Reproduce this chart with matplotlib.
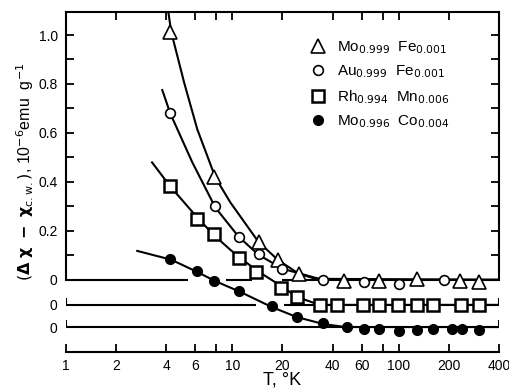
import numpy as np
import matplotlib
matplotlib.use('Agg')
import matplotlib.pyplot as plt
from matplotlib.ticker import FixedLocator, NullLocator
from matplotlib.lines import Line2D

plt.rcParams['font.family'] = ['Liberation Sans', 'DejaVu Sans']
plt.rcParams['mathtext.fontset'] = 'dejavusans'

# --- measured points (T in K, value in 1e-6 emu/g, relative to each series' own zero) ---
tri_T = [4.2, 7.8, 14.5, 18.7, 25.3, 47, 76, 128, 233, 303]
tri_v = [1.012, 0.418, 0.156, 0.082, 0.025, -0.003, -0.003, 0.004, -0.003, -0.008]

oc_T = [4.2, 7.9, 10.9, 14.5, 20, 35, 62, 100, 187]
oc_v = [0.68, 0.30, 0.176, 0.107, 0.045, 0.0, -0.008, -0.016, 0.0]

sq_T = [4.2, 6.15, 7.7, 11.0, 13.9, 19.7, 24.3, 33.4, 42.4, 60.7, 75.8, 98.6, 129, 160, 238, 303]
sq_v = [0.484, 0.352, 0.291, 0.193, 0.135, 0.070, 0.033, 0.0, 0.0, 0.0, 0.0, 0.0, 0.0, 0.0, 0.0, 0.0]

fc_T = [4.2, 6.15, 7.8, 11.0, 17.4, 24.6, 34.8, 48.7, 62, 76, 100, 129, 160, 208, 240, 302]
fc_v = [0.279, 0.230, 0.189, 0.148, 0.086, 0.041, 0.015, 0.001, -0.008, -0.008, -0.015, -0.012, -0.008, -0.008, -0.009, -0.012]

# hand-drawn guide curves
tri_cT = [4.12, 4.29, 5.14, 6.15, 7.9, 9.72, 14.3, 18.7, 25.0, 31.6, 400]
tri_cv = [1.094, 1.012, 0.803, 0.615, 0.418, 0.316, 0.156, 0.082, 0.025, 0.004, 0.0]

oc_cT = [3.79, 4.23, 5.74, 7.9, 10.9, 14.3, 20.0, 34.8, 400]
oc_cv = [0.775, 0.680, 0.48, 0.295, 0.176, 0.103, 0.045, 0.0, 0.0]

sq_cT = [3.29, 4.23, 6.15, 7.69, 9.72, 11.1, 14.1, 20.0, 24.3, 33.4, 400]
sq_cv = [0.582, 0.484, 0.357, 0.287, 0.225, 0.193, 0.139, 0.074, 0.033, 0.0, 0.0]

fc_cT = [2.68, 4.29, 6.15, 7.8, 11.2, 17.2, 24.3, 35.3, 47.9, 400]
fc_cv = [0.311, 0.275, 0.225, 0.189, 0.143, 0.082, 0.041, 0.012, 0.0, 0.0]

labels = [r'Mo$_{0.999}$  Fe$_{0.001}$', r'Au$_{0.999}$  Fe$_{0.001}$',
          r'Rh$_{0.994}$  Mn$_{0.006}$', r'Mo$_{0.996}$  Co$_{0.004}$']

xticks = [1, 2, 4, 6, 8, 10, 20, 40, 60, 80, 100, 200, 400]
xticklabels = ['1', '2', '4', '6', '', '10', '20', '40', '60', '', '100', '200', '400']

# vertical offsets of the stacked zero lines
off_sq = -0.1025
off_fc = -0.193

fig = plt.figure(figsize=(5.1, 3.9), dpi=100)
ax = fig.add_axes([66 / 510, 1 - 352 / 390, 433 / 510, 340 / 390])
ax.set_xscale('log')
ax.set_xlim(1, 400)
ax.set_ylim(-0.295, 1.094)

lw = 1.5
for s in ax.spines.values():
    s.set_linewidth(lw)
ax.spines['left'].set_bounds(0, 1.094)
ax.spines['right'].set_bounds(0, 1.094)

# zero lines (broken where curves cross them)
for a, b in [(1, 5.43), (9.2, 13.2), (20, 400)]:
    ax.plot([a, b], [0, 0], color='black', lw=lw, solid_capstyle='butt')
for a, b in [(1, 13.8), (20.3, 400)]:
    ax.plot([a, b], [off_sq, off_sq], color='black', lw=lw, solid_capstyle='butt')
ax.plot([1, 400], [off_fc, off_fc], color='black', lw=lw, solid_capstyle='butt')
for base in [off_sq, off_fc]:
    ax.vlines([1, 400], base, base + 0.03, color='black', lw=lw)

# guide curves
ax.plot(tri_cT, tri_cv, color='black', lw=lw, zorder=3)
ax.plot(oc_cT, oc_cv, color='black', lw=lw, zorder=3)
ax.plot(sq_cT, np.array(sq_cv) + off_sq, color='black', lw=lw, zorder=3)
ax.plot(fc_cT, np.array(fc_cv) + off_fc, color='black', lw=lw, zorder=3)

# data points
ax.plot(tri_T, tri_v, ls='none', marker='^', ms=10, mfc='white', mec='black', mew=1.2, zorder=5)
ax.plot(oc_T, oc_v, ls='none', marker='o', ms=7, mfc='white', mec='black', mew=1.2, zorder=5)
ax.plot(sq_T, np.array(sq_v) + off_sq, ls='none', marker='s', ms=9, mfc='white', mec='black', mew=1.8, zorder=5)
ax.plot(fc_T, np.array(fc_v) + off_fc, ls='none', marker='o', ms=7, mfc='black', mec='black', zorder=5)

# ticks
ax.xaxis.set_major_locator(FixedLocator(xticks))
ax.xaxis.set_minor_locator(NullLocator())
ax.set_xticklabels(xticklabels)
ax.tick_params(axis='x', which='both', direction='in', top=True, bottom=True,
               length=6, width=1.3, labelsize=10, pad=5)

ax.set_yticks([off_fc, off_sq, 0, 0.2, 0.4, 0.6, 0.8, 1.0])
ax.set_yticklabels(['0', '0', '0', '0.2', '0.4', '0.6', '0.8', '1.0'])
ax.yaxis.set_minor_locator(FixedLocator([0.1, 0.3, 0.5, 0.7, 0.9]))
ax.tick_params(axis='y', which='both', direction='in', left=True, right=True,
               length=6, width=1.3, labelsize=10, pad=6)

ax.set_xlabel('T, °K', fontsize=13, labelpad=-1)
fig.text(0.05, 0.56,
         r'$\left(\mathbf{\Delta\ \chi\ -\ \chi}_{\mathrm{c.w.}}\right)$, 10$^{-6}$emu  g$^{-1}$',
         rotation=90, ha='center', va='center', fontsize=11.5)

# legend
handles = [
    Line2D([], [], ls='none', marker='^', ms=10, mfc='white', mec='black', mew=1.2),
    Line2D([], [], ls='none', marker='o', ms=7, mfc='white', mec='black', mew=1.2),
    Line2D([], [], ls='none', marker='s', ms=9, mfc='white', mec='black', mew=1.8),
    Line2D([], [], ls='none', marker='o', ms=7, mfc='black', mec='black'),
]
ax.legend(handles, labels, loc='upper left', bbox_to_anchor=(0.53, 0.96), frameon=False,
          fontsize=11, handletextpad=0.6, labelspacing=0.5, handlelength=1.2)

fig.savefig('out.png', dpi=100)
